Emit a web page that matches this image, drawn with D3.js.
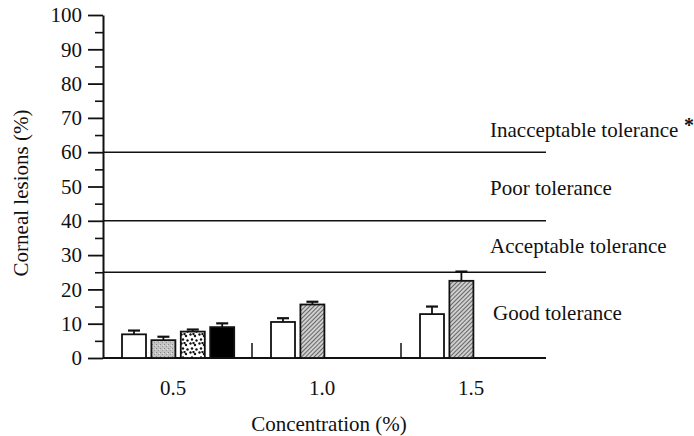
<!doctype html>
<html>
<head>
<meta charset="utf-8">
<title>Corneal lesions</title>
<script src="https://d3js.org/d3.v7.min.js"></script>
<style>
body { margin: 0; background: #fff; }
svg { display: block; }
text { font-family: 'Liberation Serif', 'DejaVu Serif', serif; fill: #111; font-size: 21px; }
</style>
</head>
<body>
<div id="chart"></div>
<script>
// concentration groups and the bars in them
var groups = ["0.5", "1.0", "1.5"];
var barGroup = ["0.5", "0.5", "0.5", "0.5", "1.0", "1.0", "1.5", "1.5"];
var barSlot = [0, 1, 2, 3, 0, 1, 0, 1];
var barSeries = ["A", "B", "C", "D", "A", "E", "A", "E"];
var lesions = [6.9, 5.2, 7.7, 9.0, 10.5, 15.6, 12.8, 22.5];
var errors = [1.1, 1.0, 0.6, 1.1, 1.1, 0.8, 2.2, 2.7];

// tolerance limits and zone labels
var limits = [25, 40, 60];
var zoneNames = ["Good tolerance", "Acceptable tolerance", "Poor tolerance", "Inacceptable tolerance"];
var zoneAt = [13.1, 32.7, 49.6, 66.5];

var yTicks = [0, 10, 20, 30, 40, 50, 60, 70, 80, 90, 100];

var width = 694, height = 436;
var mLeft = 103, mRight = 550, mTop = 15, mBottom = 358, lineEnd = 546;

var svg = d3.select("#chart").append("svg")
  .attr("width", width).attr("height", height);

var defs = svg.append("defs");

// fine grey stipple
var stip = defs.append("pattern").attr("id", "stipple")
  .attr("patternUnits", "userSpaceOnUse").attr("width", 4).attr("height", 4);
stip.append("rect").attr("width", 4).attr("height", 4).attr("fill", "#c4c4c4");
stip.append("rect").attr("x", 0).attr("y", 0).attr("width", 1).attr("height", 1).attr("fill", "#888");
stip.append("rect").attr("x", 2).attr("y", 2).attr("width", 1).attr("height", 1).attr("fill", "#999");
stip.append("rect").attr("x", 3).attr("y", 1).attr("width", 1).attr("height", 1).attr("fill", "#e6e6e6");

// black dots on white
var dots = defs.append("pattern").attr("id", "dots")
  .attr("patternUnits", "userSpaceOnUse").attr("width", 9).attr("height", 9);
dots.append("rect").attr("width", 9).attr("height", 9).attr("fill", "#fff");
[[1.5, 1.5], [6, 3], [3, 6.5], [7.5, 7.5], [4.5, 1]].forEach(function(p) {
  dots.append("circle").attr("cx", p[0]).attr("cy", p[1]).attr("r", 1.2).attr("fill", "#111");
});

// grey diagonal hatch
var hatch = defs.append("pattern").attr("id", "hatch")
  .attr("patternUnits", "userSpaceOnUse").attr("width", 3).attr("height", 3)
  .attr("patternTransform", "rotate(45)");
hatch.append("rect").attr("width", 3).attr("height", 3).attr("fill", "#cfcfcf");
hatch.append("rect").attr("width", 1).attr("height", 3).attr("fill", "#666");

var fills = { A: "#fff", B: "url(#stipple)", C: "url(#dots)", D: "#000", E: "url(#hatch)" };

var y = d3.scaleLinear().domain([0, 100]).range([mBottom, mTop]);
var x = d3.scaleBand().domain(groups).range([mLeft, mRight]);

// minor ticks
svg.append("g")
  .attr("transform", "translate(" + mLeft + ",0)")
  .call(d3.axisLeft(y).tickValues(d3.range(5, 100, 10)).tickSize(8).tickFormat(""))
  .call(function(g) { g.select(".domain").remove(); })
  .selectAll("line").attr("stroke", "#111").attr("stroke-width", 1.6);

// major axis
var yAxis = svg.append("g")
  .attr("transform", "translate(" + mLeft + ",0)")
  .call(d3.axisLeft(y).tickValues(yTicks).tickSize(15).tickSizeOuter(0).tickPadding(6));
yAxis.select(".domain").attr("stroke", "#111").attr("stroke-width", 2);
yAxis.selectAll(".tick line").attr("stroke", "#111").attr("stroke-width", 1.8);
yAxis.selectAll(".tick text")
  .style("font-family", "'Liberation Serif', serif")
  .style("font-size", "21px").attr("fill", "#111");

// baseline
svg.append("line")
  .attr("x1", mLeft).attr("x2", lineEnd)
  .attr("y1", y(0)).attr("y2", y(0))
  .attr("stroke", "#111").attr("stroke-width", 1.8);

// tolerance limits
svg.selectAll(".limit").data(limits).enter().append("line")
  .attr("class", "limit")
  .attr("x1", mLeft).attr("x2", lineEnd)
  .attr("y1", function(d) { return y(d); }).attr("y2", function(d) { return y(d); })
  .attr("stroke", "#111").attr("stroke-width", 1.5);

svg.selectAll(".zone").data(zoneNames).enter().append("text")
  .attr("class", "zone")
  .attr("x", function(d, i) { return i == 0 ? 493 : 490; })
  .attr("y", function(d, i) { return y(zoneAt[i]); })
  .attr("dy", "0.35em")
  .text(function(d) { return d; });

svg.append("text")
  .attr("x", 684).attr("y", y(zoneAt[3]) + 2)
  .style("font-size", "20px").style("font-weight", "bold")
  .text("*");

// group separators
svg.selectAll(".sep").data(groups.slice(1)).enter().append("line")
  .attr("class", "sep")
  .attr("x1", function(d) { return x(d); }).attr("x2", function(d) { return x(d); })
  .attr("y1", y(0)).attr("y2", y(4.4))
  .attr("stroke", "#111").attr("stroke-width", 1.5);

// bars
var barW = 24, step = 29.4, offset = 19;
function bx(i) { return x(barGroup[i]) + offset + barSlot[i] * step; }

var bars = svg.selectAll(".bar").data(lesions).enter().append("g").attr("class", "bar");

bars.append("line")
  .attr("x1", function(d, i) { return bx(i) + barW / 2; })
  .attr("x2", function(d, i) { return bx(i) + barW / 2; })
  .attr("y1", function(d) { return y(d); })
  .attr("y2", function(d, i) { return y(d + errors[i]); })
  .attr("stroke", "#111").attr("stroke-width", 1.8);
bars.append("line")
  .attr("x1", function(d, i) { return bx(i) + barW / 2 - 6; })
  .attr("x2", function(d, i) { return bx(i) + barW / 2 + 6; })
  .attr("y1", function(d, i) { return y(d + errors[i]); })
  .attr("y2", function(d, i) { return y(d + errors[i]); })
  .attr("stroke", "#111").attr("stroke-width", 2.2);

bars.append("rect")
  .attr("x", function(d, i) { return bx(i); })
  .attr("y", function(d) { return y(d); })
  .attr("width", barW)
  .attr("height", function(d) { return y(0) - y(d); })
  .attr("fill", function(d, i) { return fills[barSeries[i]]; })
  .attr("stroke", "#111").attr("stroke-width", 1.8);

// x labels
svg.selectAll(".xlab").data(groups).enter().append("text")
  .attr("class", "xlab")
  .attr("x", function(d) { return x(d) + 70; })
  .attr("y", 395)
  .attr("text-anchor", "middle")
  .text(function(d) { return d; });

svg.append("text")
  .attr("x", 329).attr("y", 431)
  .attr("text-anchor", "middle")
  .text("Concentration (%)");

svg.append("text")
  .attr("transform", "translate(28,193) rotate(-90)")
  .attr("text-anchor", "middle")
  .text("Corneal lesions (%)");
</script>
</body>
</html>
